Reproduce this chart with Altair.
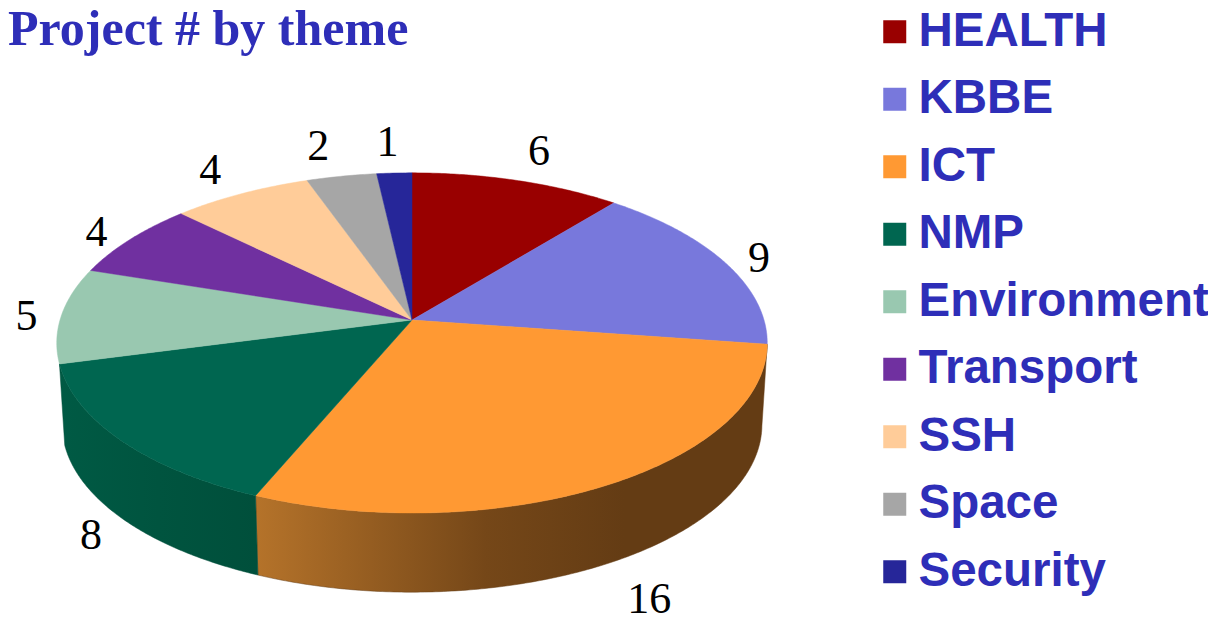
import numpy as np
import pandas as pd
import altair as alt

# ---- values ----
themes = ["HEALTH", "KBBE", "ICT", "NMP", "Environment", "Transport", "SSH", "Space", "Security"]
projects = [6, 9, 16, 8, 5, 4, 4, 2, 1]
colors = ["#990000", "#7878DC", "#FF9933", "#006650", "#99C8B0", "#7030A0", "#FFCC99", "#A6A6A6", "#262699"]
label_pull_x = [1.21, 1.11, 1.21, 1.10, 1.10, 1.12, 1.18, 1.33, 1.39]
label_pull_y = [1.22, 1.09, 1.19, 1.10, 1.10, 1.10, 1.20, 1.22, 1.22]
title_text = "Project # by theme"

# ---- tilted-disc geometry (a circle seen in perspective) ----
CX, CY, A, B, K = 412.0, 320.0, 352.0, 167.0, 0.135
DEPTH, BASE_SHRINK = 82.0, 0.985


def rim(theta, pull_x=1.0, pull_y=1.0, drop=0.0):
    sx, cy = np.sin(theta), np.cos(theta)
    w = 1 + K * cy
    return CX + pull_x * A * sx / w, CY - pull_y * B * cy / w + drop


total = sum(projects)
edges = np.cumsum([0] + projects) / total * 2 * np.pi

tops, walls, labels = [], [], []
for i, name in enumerate(themes):
    t = np.linspace(edges[i], edges[i + 1], max(8, projects[i] * 12))
    x, y = rim(t)
    tops.append(pd.DataFrame({
        "theme": name,
        "x": np.r_[CX, x, CX],
        "y": np.r_[CY, y, CY],
        "o": np.arange(len(t) + 2),
    }))
    if name in ("ICT", "NMP"):
        bx, by = rim(t[::-1], BASE_SHRINK, BASE_SHRINK, DEPTH)
        walls.append(pd.DataFrame({
            "theme": name,
            "x": np.r_[x, bx, x[0]],
            "y": np.r_[y, by, y[0]],
            "o": np.arange(2 * len(t) + 1),
        }))
    mid = (edges[i] + edges[i + 1]) / 2
    lx, ly = rim(mid, label_pull_x[i], label_pull_y[i], DEPTH if np.cos(mid) < -0.3 else 0.0)
    labels.append({"theme": name, "n": str(projects[i]), "x": lx, "y": ly})

top_df = pd.concat(tops)
wall_df = pd.concat(walls)
label_df = pd.DataFrame(labels)

W, H = 1200, 609
X = alt.X("x:Q", axis=None, scale=alt.Scale(domain=[8, 8 + W], range=[0, W], nice=False, zero=False))
Y = alt.Y("y:Q", axis=None, scale=alt.Scale(domain=[8, 8 + H], range=[0, H], nice=False, zero=False))


def wall(name, stops):
    grad = alt.Gradient(gradient="linear", x1=0, x2=1, y1=0, y2=0,
                        stops=[alt.GradientStop(offset=o, color=c) for o, c in stops])
    return alt.Chart(wall_df[wall_df.theme == name]).mark_line(
        fill=grad, stroke=stops[-1][1], strokeWidth=0.5
    ).encode(x=X, y=Y, order="o:Q")


ict_wall = wall("ICT", [(0, "#B5732A"), (0.45, "#754718"), (0.72, "#643C14"), (1, "#643C14")])
nmp_wall = wall("NMP", [(0, "#005A44"), (0.5, "#00543F"), (1, "#004F3B")])

color_scale = alt.Scale(domain=themes, range=colors)
legend = alt.Legend(
    title=None, orient="none", legendX=863, legendY=0, padding=0,
    symbolType="square", symbolSize=529, symbolStrokeWidth=0, symbolOpacity=1,
    labelFont="Liberation Sans", labelFontWeight="bold", labelFontSize=47.5,
    labelColor="#2E2EB8", labelOffset=0, labelLimit=400, rowPadding=18.5,
)

top = alt.Chart(top_df).mark_line(strokeWidth=0.5).encode(
    x=X, y=Y, order="o:Q", detail="theme:N",
    fill=alt.Fill("theme:N", scale=color_scale, sort=themes, legend=legend),
    stroke=alt.Stroke("theme:N", scale=color_scale, sort=themes, legend=None),
)

value_labels = alt.Chart(label_df).mark_text(
    font="Liberation Serif", fontSize=44, color="#000000", align="center", baseline="middle", dy=2
).encode(x=X, y=Y, text="n:N")

title = alt.Chart(pd.DataFrame({"t": [title_text]})).mark_text(
    font="Liberation Serif", fontWeight="bold", fontSize=50, color="#2E2EB8",
    align="left", baseline="alphabetic"
).encode(x=alt.value(0), y=alt.value(37), text="t:N")

chart = alt.layer(ict_wall, nmp_wall, top, value_labels, title).properties(
    width=W, height=H, padding=0, autosize=alt.AutoSizeParams(type="none")
).configure_view(stroke=None)

chart.save("out.html", embed_options={"renderer": "svg", "actions": False})
